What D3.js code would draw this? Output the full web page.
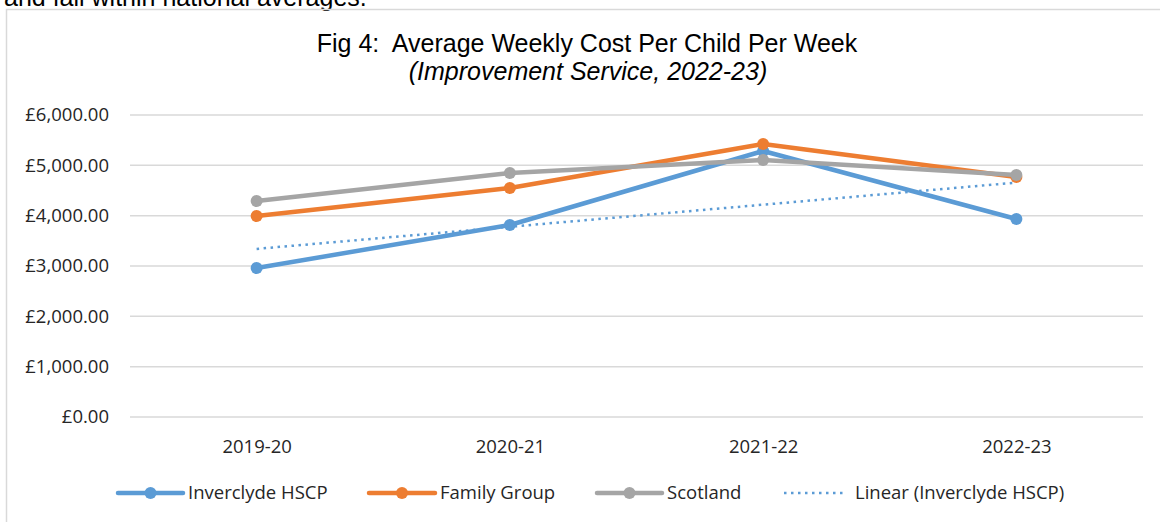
<!DOCTYPE html>
<html>
<head>
<meta charset="utf-8">
<script src="https://cdn.jsdelivr.net/npm/d3@7"></script>
<style>
  body { margin: 0; background: #fff; }
  svg text { fill: #262626; }
</style>
</head>
<body>
<div id="chart"></div>
<script>
const years = ['2019-20', '2020-21', '2021-22', '2022-23'];
const inverclyde = [2960, 3815, 5285, 3934];
const familyGroup = [3994, 4550, 5424, 4770];
const scotland = [4290, 4848, 5106, 4808];
const yTicks = [0, 1000, 2000, 3000, 4000, 5000, 6000];

const w = 1160;
const h = 522;
const plotLeft = 130;
const plotRight = 1143;
const plotTop = 115;
const plotBottom = 417;
const labelFont = "'Open Sans', 'Noto Sans', sans-serif";
const labelSize = 18.5;
const arial = "'Liberation Sans', Arial, sans-serif";

const svg = d3.select('#chart')
  .append('svg')
  .attr('width', w)
  .attr('height', h);

// cut-off line of body text above the chart
svg.append('text')
  .attr('x', 4)
  .attr('y', 6)
  .attr('font-family', arial)
  .attr('font-size', 25)
  .style('fill', '#000')
  .text('and fall within national averages.');

// chart border
svg.append('rect')
  .attr('x', 6.5)
  .attr('y', 9.5)
  .attr('width', w)
  .attr('height', h)
  .attr('fill', 'none')
  .attr('stroke', '#d9d9d9')
  .attr('stroke-width', 1.5);

svg.append('text')
  .attr('x', 587)
  .attr('y', 52)
  .attr('text-anchor', 'middle')
  .attr('font-family', arial)
  .attr('font-size', 25)
  .style('fill', '#000')
  .style('white-space', 'pre')
  .text('Fig 4:  Average Weekly Cost Per Child Per Week');

svg.append('text')
  .attr('x', 588)
  .attr('y', 80)
  .attr('text-anchor', 'middle')
  .attr('font-family', arial)
  .attr('font-size', 25)
  .attr('font-style', 'italic')
  .style('fill', '#000')
  .text('(Improvement Service, 2022-23)');

const xScale = d3.scalePoint()
  .domain(years)
  .range([plotLeft, plotRight])
  .padding(0.5);

const yScale = d3.scaleLinear()
  .domain([0, 6000])
  .range([plotBottom, plotTop]);

// gridlines
svg.append('g')
  .selectAll('line')
  .data(yTicks)
  .enter()
  .append('line')
  .attr('x1', plotLeft)
  .attr('x2', plotRight)
  .attr('y1', d => yScale(d))
  .attr('y2', d => yScale(d))
  .attr('stroke', '#d9d9d9')
  .attr('stroke-width', 1.5);

const fmt = d3.format(',.2f');
const yAxis = d3.axisLeft(yScale)
  .tickValues(yTicks)
  .tickSize(0)
  .tickPadding(21)
  .tickFormat(d => '£' + fmt(d));

const yg = svg.append('g')
  .attr('transform', `translate(${plotLeft},0)`)
  .call(yAxis);
yg.select('.domain').remove();
yg.selectAll('text')
  .attr('font-family', labelFont)
  .attr('font-size', labelSize);

const xAxis = d3.axisBottom(xScale).tickSize(0).tickPadding(23);
const xg = svg.append('g')
  .attr('transform', `translate(0,${plotBottom})`)
  .call(xAxis);
xg.select('.domain').remove();
xg.selectAll('text')
  .attr('font-family', labelFont)
  .attr('font-size', labelSize);

// linear trend of Inverclyde (least squares, as the spreadsheet trendline)
const xs = years.map((d, i) => i + 1);
const mx = d3.mean(xs);
const my = d3.mean(inverclyde);
const slope = d3.sum(xs, (x, i) => (x - mx) * (inverclyde[i] - my)) / d3.sum(xs, x => (x - mx) * (x - mx));
const trend = xs.map(x => my + slope * (x - mx));

const line = d3.line()
  .x((d, i) => xScale(years[i]))
  .y(d => yScale(d));

const series = [
  { name: 'Inverclyde HSCP', values: inverclyde, color: '#5b9bd5' },
  { name: 'Family Group', values: familyGroup, color: '#ed7d31' },
  { name: 'Scotland', values: scotland, color: '#a5a5a5' }
];

svg.append('path')
  .datum(trend)
  .attr('d', line)
  .attr('fill', 'none')
  .attr('stroke', '#5b9bd5')
  .attr('stroke-width', 2.5)
  .attr('stroke-dasharray', '2.5 4.5');

series.forEach(s => {
  svg.append('path')
    .datum(s.values)
    .attr('d', line)
    .attr('fill', 'none')
    .attr('stroke', s.color)
    .attr('stroke-width', 4.5)
    .attr('stroke-linejoin', 'round');
  svg.selectAll(null)
    .data(s.values)
    .enter()
    .append('circle')
    .attr('cx', (d, i) => xScale(years[i]))
    .attr('cy', d => yScale(d))
    .attr('r', 6)
    .attr('fill', s.color);
});

// legend
const legendY = 493;
const legendItems = [
  { name: 'Inverclyde HSCP', color: '#5b9bd5', x: 118, len: 65, dot: true },
  { name: 'Family Group', color: '#ed7d31', x: 369, len: 66, dot: true },
  { name: 'Scotland', color: '#a5a5a5', x: 597, len: 65, dot: true },
  { name: 'Linear (Inverclyde HSCP)', color: '#5b9bd5', x: 784, len: 59, dot: false }
];

const lg = svg.append('g');
legendItems.forEach(it => {
  lg.append('line')
    .attr('x1', it.x)
    .attr('x2', it.x + it.len)
    .attr('y1', legendY)
    .attr('y2', legendY)
    .attr('stroke', it.color)
    .attr('stroke-width', it.dot ? 4.5 : 2.5)
    .attr('stroke-linecap', it.dot ? 'round' : 'butt')
    .attr('stroke-dasharray', it.dot ? null : '2.5 4.5');
  if (it.dot) {
    lg.append('circle')
      .attr('cx', it.x + it.len / 2)
      .attr('cy', legendY)
      .attr('r', 6)
      .attr('fill', it.color);
  }
  lg.append('text')
    .attr('x', it.x + it.len + (it.dot ? 5 : 12))
    .attr('y', legendY)
    .attr('dy', '0.35em')
    .attr('font-family', labelFont)
    .attr('font-size', labelSize)
    .text(it.name);
});
</script>
</body>
</html>
